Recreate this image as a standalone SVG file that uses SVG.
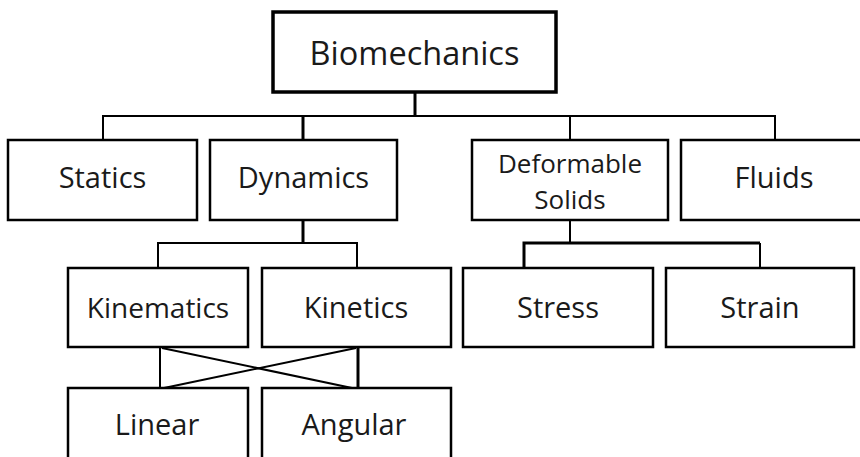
<svg xmlns="http://www.w3.org/2000/svg" width="860" height="457" viewBox="0 0 860 457">
<style>
.box{fill:#fff;stroke:#000;stroke-width:2.5}
.root{fill:#fff;stroke:#000;stroke-width:3.5}
.t{font-family:"Open Sans","Noto Sans",sans-serif;font-size:29px;fill:#1a1a1a;text-anchor:middle}
.c{fill:none;stroke:#000;stroke-width:2}
.ct{fill:none;stroke:#000;stroke-width:3}
</style>
<rect width="860" height="457" fill="#fff"/>
<g id="connectors">
<path class="ct" d="M415 92V116"/>
<path class="c" d="M103 140V116H775V140"/>
<path class="ct" d="M303 116V140"/>
<path class="c" d="M570 116V140"/>
<path class="ct" d="M303 220V243"/>
<path class="c" d="M158 268V243H357V268"/>
<path class="c" d="M570 220V243"/>
<path class="ct" d="M524 268V243H760"/>
<path class="c" d="M760 243V268"/>
<path class="c" d="M160 347V388"/>
<path class="ct" d="M358 347V388"/>
<path class="c" d="M162 348L352 388"/>
<path class="c" d="M356 348L164 388"/>
</g>
<g id="biomechanics"><rect class="root" x="273" y="12" width="283" height="80"/><text class="t" x="414.5" y="65" style="font-size:32.5px">Biomechanics</text></g>
<g id="statics"><rect class="box" x="8" y="140" width="189" height="80"/><text class="t" x="102.5" y="188">Statics</text></g>
<g id="dynamics"><rect class="box" x="210" y="140" width="187" height="80"/><text class="t" x="303.5" y="188">Dynamics</text></g>
<g id="deformable"><rect class="box" x="472" y="140" width="196" height="80"/><text class="t" x="570" y="173" style="font-size:26px">Deformable</text><text class="t" x="570" y="209" style="font-size:26px">Solids</text></g>
<g id="fluids"><rect class="box" x="681" y="140" width="186" height="80"/><text class="t" x="774" y="188">Fluids</text></g>
<g id="kinematics"><rect class="box" x="68" y="268" width="180" height="79"/><text class="t" x="158" y="318" style="font-size:28px">Kinematics</text></g>
<g id="kinetics"><rect class="box" x="262" y="268" width="189" height="79"/><text class="t" x="356" y="318">Kinetics</text></g>
<g id="stress"><rect class="box" x="463" y="268" width="190" height="79"/><text class="t" x="558" y="318">Stress</text></g>
<g id="strain"><rect class="box" x="666" y="268" width="188" height="79"/><text class="t" x="760" y="318">Strain</text></g>
<g id="linear"><rect class="box" x="68" y="388" width="180" height="80"/><text class="t" x="157" y="435">Linear</text></g>
<g id="angular"><rect class="box" x="262" y="388" width="189" height="80"/><text class="t" x="354" y="435">Angular</text></g>
</svg>
